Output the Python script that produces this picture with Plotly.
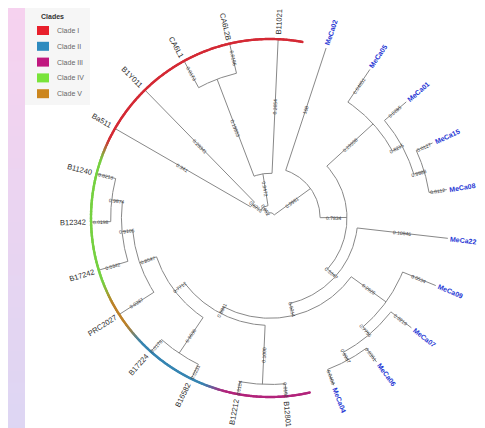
import math
import numpy as np
import plotly.graph_objects as go

W, H = 485, 428
CX, CY = 262, 210      # pixel position of the tree centre
R_TIP = 179            # pixel radius of the tips / clade ring

# ---------------- data ----------------
leaf_names = ["B11240", "B12342", "B17242", "PRC2027", "B17224", "B16582", "B12212", "B12801",
              "MeCa04", "MeCa06", "MeCa07", "MeCa09", "MeCa22", "MeCa08", "MeCa15", "MeCa01",
              "MeCa05", "MeCa02",
              "B11021", "CA6L2B", "CA6L1", "B1Y011", "Ba511"]
leaf_clades = ["Clade IV", "Clade IV", "Clade IV", "Clade V", "Clade II", "Clade II", "Clade III", "Clade III",
               None, None, None, None, None, None, None, None, None, None,
               "Clade I", "Clade I", "Clade I", "Clade I", "Clade I"]
leaf_parent = ["Z8", "Z8", "Z7", "Z6", "R", "R", "P", "P",
               "O", "O", "N", "L", "Z2", "J", "J", "I", "H", "Z",
               "CIa", "CA6", "CA6", "CIb", "CIb"]
leaf_support = ["0.0213", "0.0198", "0.0342", "0.0287", "0.0176", "0.0231", "0.0154", "0.0162",
                "0.0408", "0.0351", "0.0219", "0.0534", "0.10846", "0.0112", "0.0127", "0.0285",
                "0.04851", "100",
                "0.2654", "0.0186", "0.0173", "0.28341", "0.341"]

node_names = ["root", "CI", "CIa", "CA6", "CIb", "Z", "Z1", "H", "I", "J", "Z2", "Z3",
              "L", "N", "O", "Z4", "P", "Z5", "R", "Z6", "Z7", "Z8"]
node_parent = [None, "root", "CI", "CIa", "CI", "root", "Z", "Z1", "H", "I", "Z1", "Z2",
               "Z3", "L", "N", "Z3", "Z4", "Z4", "Z5", "Z5", "Z6", "Z7"]
node_depth = [0.03, 0.07, 0.25, 0.83, 0.125, 0.28, 0.43, 0.78, 0.84, 0.90, 0.49, 0.56,
              0.80, 0.855, 0.905, 0.60, 0.93, 0.67, 0.91, 0.77, 0.83, 0.89]
node_support = ["", "0.852", "0.9472", "0.19953", "0.6213", "0.9961", "0.7834", "0.29998",
                "0.8215", "0.9988", "0.5347", "0.9214", "0.2925", "0.7756", "0.9987", "0.8841",
                "0.1000", "0.7712", "0.9630", "0.8547", "0.9105", "0.9874"]

clade_names = ["Clade I", "Clade II", "Clade III", "Clade IV", "Clade V"]
clade_colors = ["#e8202c", "#2e8bbf", "#c0187f", "#79e43a", "#cc861e"]

# ---------------- layout of the tree ----------------
n = len(leaf_names)
STEP = 360.0 / n
START = 165.65
leaf_angle = [START + i * STEP for i in range(n)]

children = {}
for name, p in zip(node_names, node_parent):
    if p is not None:
        children.setdefault(p, []).append(("node", name))
for i, p in enumerate(leaf_parent):
    children.setdefault(p, []).append(("leaf", i))
depth = dict(zip(node_names, node_depth))
nsup = dict(zip(node_names, node_support))
node_angle = {}


def ang(kind, key):
    if kind == "leaf":
        return leaf_angle[key]
    if key not in node_angle:
        a = [ang(k, c) for k, c in children[key]]
        node_angle[key] = (min(a) + max(a)) / 2
    return node_angle[key]


def rad_of(kind, key):
    return 1.0 if kind == "leaf" else depth[key]


def pt(r, a):
    t = math.radians(a)
    return r * math.cos(t), r * math.sin(t)


def radial_textangle(a):
    a = ((a + 180) % 360) - 180
    if -90 < a <= 90:
        return -a
    ta = 180 - a
    return ((ta + 180) % 360) - 180


ang("node", "root")
lx, ly = [], []
seg_labels = []  # (r_mid, angle, text)
for name in node_names:
    r0 = depth[name] * R_TIP
    kids = children[name]
    angs = [ang(k, c) for k, c in kids]
    for a in np.linspace(min(angs), max(angs), 80):
        x, y = pt(r0, a)
        lx.append(x); ly.append(y)
    lx.append(None); ly.append(None)
    for (k, c), a in zip(kids, angs):
        r1 = rad_of(k, c) * R_TIP
        for r in (r0, r1):
            x, y = pt(r, a)
            lx.append(x); ly.append(y)
        lx.append(None); ly.append(None)
        txt = leaf_support[c] if k == "leaf" else nsup[c]
        if txt:
            seg_labels.append(((r0 + r1) / 2, a, txt))

fig = go.Figure()
fig.add_trace(go.Scatter(x=lx, y=ly, mode="lines", line=dict(color="#888888", width=1),
                         hoverinfo="skip", showlegend=False))

# ---------------- clade ring ----------------
ccol = dict(zip(clade_names, clade_colors))


def hex2rgb(h):
    return np.array([int(h[i:i + 2], 16) for i in (1, 3, 5)], float)


# contiguous run of clade-coloured leaves around the ring (Clade I ... then IV, V, II, III)
seq = [i for i in range(n) if leaf_clades[i] and leaf_angle[i] > 360] + \
      [i for i in range(n) if leaf_clades[i] and leaf_angle[i] <= 360]
seq_ang = [leaf_angle[i] if leaf_angle[i] > 360 else leaf_angle[i] + 360 for i in seq]
ax_, ay_, ac_ = [], [], []
a_start = seq_ang[0] - STEP / 2
a_end = seq_ang[-1] + STEP / 2
for a in np.arange(a_start, a_end, 0.25):
    j = int(np.searchsorted(seq_ang, a)) - 1
    if j < 0:
        col = hex2rgb(ccol[leaf_clades[seq[0]]])
    elif j >= len(seq) - 1:
        col = hex2rgb(ccol[leaf_clades[seq[-1]]])
    else:
        c0 = hex2rgb(ccol[leaf_clades[seq[j]]]); c1 = hex2rgb(ccol[leaf_clades[seq[j + 1]]])
        t = (a - seq_ang[j]) / STEP
        t = min(max((t - 0.2) / 0.6, 0), 1)
        t = t * t * (3 - 2 * t)
        col = c0 * (1 - t) + c1 * t
    col = col * 0.85 + 255 * 0.06
    x, y = pt(R_TIP, a)
    ax_.append(x); ay_.append(y)
    ac_.append("rgb(%d,%d,%d)" % tuple(np.clip(col, 0, 255).round()))
fig.add_trace(go.Scatter(x=ax_, y=ay_, mode="markers",
                         marker=dict(color=ac_, size=2.4, line=dict(width=0)),
                         hoverinfo="skip", showlegend=False))

# ---------------- annotations ----------------
ann = []
for i, name in enumerate(leaf_names):
    a = leaf_angle[i]
    blue = leaf_clades[i] is None
    fs = 7 if blue else 7.5
    w = len(name) * fs * (0.63 if blue else 0.57)
    rc = R_TIP + (3 if blue else 5) + w / 2
    x, y = pt(rc, a)
    ann.append(dict(x=x, y=y, xref="x", yref="y", showarrow=False,
                    text=("<b>%s</b>" % name) if blue else name,
                    textangle=radial_textangle(a), xanchor="center", yanchor="middle",
                    font=dict(size=fs, color="#2536d4" if blue else "#2a2a2a",
                              family="Liberation Sans, Arial, sans-serif")))
for r, a, txt in seg_labels:
    x, y = pt(r, a)
    ann.append(dict(x=x, y=y, xref="x", yref="y", showarrow=False, text=txt,
                    textangle=radial_textangle(a), xanchor="center", yanchor="middle",
                    font=dict(size=5, color="#3c3c3c", family="Liberation Sans, Arial, sans-serif")))

shapes = []


def px(xp):
    return xp / W


def py(yp):
    return 1 - yp / H


# background: left gradient strip (stacked bands, no gaps) + bottom strip + legend panel
top_c = hex2rgb("#f6d2ef"); bot_c = hex2rgb("#ddd6f3")
NS = 40
for k in range(NS):
    t = k / (NS - 1)
    c = top_c * (1 - t) + bot_c * t
    shapes.append(dict(type="rect", xref="paper", yref="paper", layer="below",
                       x0=0, x1=px(17), y0=0, y1=py(H * k / NS),
                       fillcolor="rgb(%d,%d,%d)" % tuple(c.round()), line=dict(width=0)))
shapes.append(dict(type="rect", xref="paper", yref="paper", layer="below",
                   x0=0, x1=1, y0=0, y1=py(424.5), fillcolor="#e1d8f3", line=dict(width=0)))
shapes.append(dict(type="rect", xref="paper", yref="paper", layer="below",
                   x0=px(17), x1=px(82), y0=py(97), y1=py(0), fillcolor="#f6f6f6", line=dict(width=0)))

ann.append(dict(x=px(31), y=py(8), xref="paper", yref="paper", showarrow=False,
                text="<b>Clades</b>", xanchor="left", yanchor="middle",
                font=dict(size=7, color="#333333", family="Liberation Sans, Arial, sans-serif")))
for k, (cn, cc) in enumerate(zip(clade_names, clade_colors)):
    yc = 22.5 + 15.8 * k
    shapes.append(dict(type="rect", xref="paper", yref="paper",
                       x0=px(29), x1=px(41), y0=py(yc + 4.5), y1=py(yc - 4.5),
                       fillcolor=cc, line=dict(width=0)))
    ann.append(dict(x=px(47), y=py(yc), xref="paper", yref="paper", showarrow=False,
                    text=cn, xanchor="left", yanchor="middle",
                    font=dict(size=7, color="#666666", family="Liberation Sans, Arial, sans-serif")))

fig.update_layout(
    width=W, height=H, margin=dict(l=0, r=0, t=0, b=0),
    paper_bgcolor="white", plot_bgcolor="rgba(0,0,0,0)",
    xaxis=dict(range=[-CX, W - CX], visible=False, fixedrange=True),
    yaxis=dict(range=[-(H - CY), CY], visible=False, fixedrange=True),
    annotations=ann, shapes=shapes, showlegend=False,
)
fig.write_html("out.html")
